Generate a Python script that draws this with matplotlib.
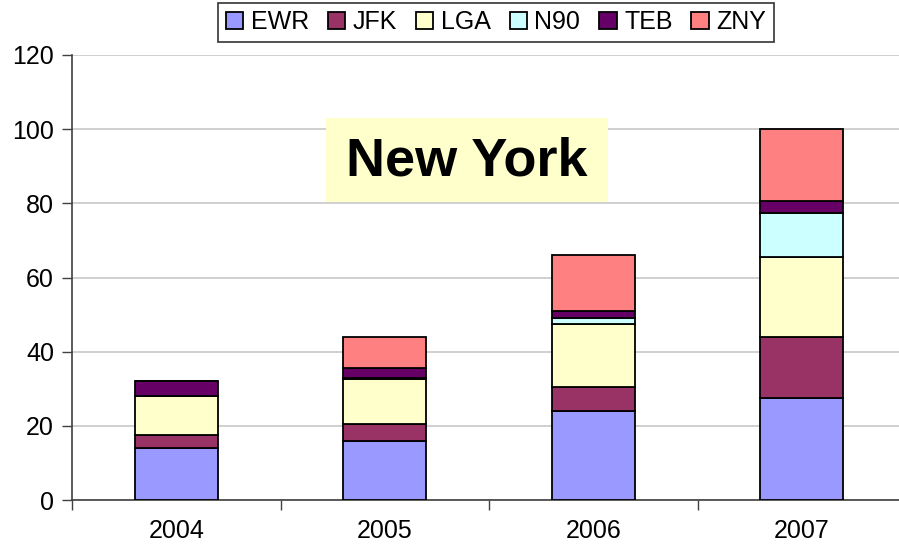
import numpy as np
import matplotlib.pyplot as plt
from matplotlib.patches import Rectangle

plt.rcParams['font.family'] = ['Liberation Sans', 'DejaVu Sans']

# Data
years = ["2004", "2005", "2006", "2007"]
series = ["EWR", "JFK", "LGA", "N90", "TEB", "ZNY"]
ewr = [14, 16, 24, 27.5]
jfk = [3.5, 4.5, 6.5, 16.5]
lga = [10.5, 12, 17, 21.5]
n90 = [0, 0.5, 1.5, 12]
teb = [4, 2.5, 2, 3]
zny = [0, 8.5, 15, 19.5]
colors = ["#9999FF", "#993366", "#FFFFCC", "#CCFFFF", "#660066", "#FF8080"]

fig = plt.figure(figsize=(8.99, 5.51), dpi=100)
# plot area runs a little past the right edge, like the original
ax = fig.add_axes([72 / 899, 51 / 551, 834 / 899, 445 / 551])

x = np.arange(len(years))
bottom = np.zeros(len(years))
for name, vals, c in zip(series, [ewr, jfk, lga, n90, teb, zny], colors):
    vals = np.array(vals, dtype=float)
    ax.bar(x, vals, 0.4, bottom=bottom, color=c, edgecolor="black",
           linewidth=1.3, label=name, zorder=3)
    bottom += vals

ax.set_xlim(-0.5, 3.5)
ax.set_ylim(0, 120)
ax.set_yticks(range(0, 121, 20))
ax.set_xticks(x)
ax.set_xticklabels(years)
ax.set_xticks(np.arange(-0.5, 3.6, 1), minor=True)
ax.tick_params(axis="x", which="major", length=0, pad=14, labelsize=18)
ax.tick_params(axis="x", which="minor", length=7, width=1, color="#404040")
ax.tick_params(axis="y", length=7, width=1, color="#404040", labelsize=18, pad=6)

ax.yaxis.grid(True, color="#C8C8C8", linewidth=1.2, zorder=0)
ax.set_axisbelow(True)
for s in ["top", "right"]:
    ax.spines[s].set_visible(False)
for s in ["left", "bottom"]:
    ax.spines[s].set_color("#404040")
    ax.spines[s].set_linewidth(1.2)

# "New York" label box
fig.patches.append(Rectangle((326 / 899, 1 - 202 / 551), 282 / 899, 84 / 551,
                             transform=fig.transFigure, facecolor="#FFFFCC",
                             edgecolor="none", zorder=5))
fig.text(467 / 899, 1 - 161 / 551, "New York", fontsize=39, fontweight="bold",
         ha="center", va="center", zorder=6)

leg = fig.legend(loc="center", bbox_to_anchor=(496 / 899, 1 - 22 / 551), ncol=6,
                 fontsize=18, frameon=True, fancybox=False, edgecolor="black",
                 handlelength=0.7, handleheight=0.7, handletextpad=0.3,
                 columnspacing=0.75, borderpad=0.3, borderaxespad=0)
leg.get_frame().set_linewidth(1.2)

fig.savefig("out.png", dpi=100)
